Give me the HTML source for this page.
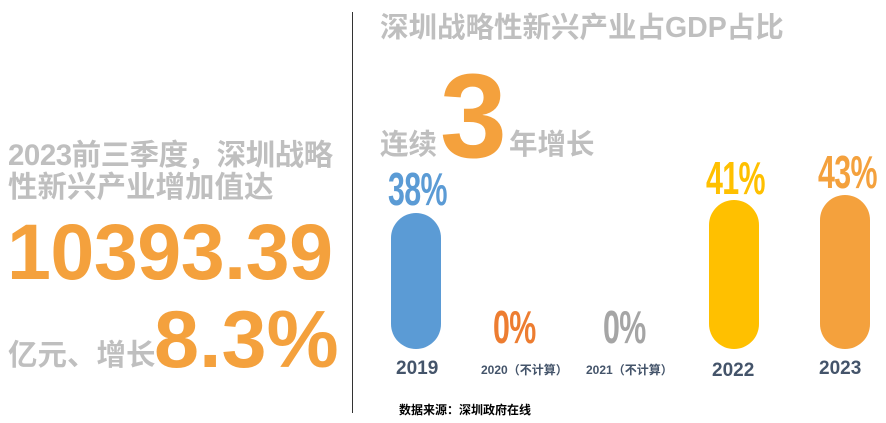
<!DOCTYPE html><html><head><meta charset="utf-8"><style>
body{margin:0;width:886px;height:423px;background:#fff;position:relative;overflow:hidden;font-family:"Liberation Sans","Noto Sans CJK SC",sans-serif;font-weight:bold}
.a{position:absolute;white-space:nowrap;line-height:1}
.g{color:#bfbfbf}.o{color:#f4a13d}
.bar{position:absolute;width:50px;border-radius:25px}
.pct{position:absolute;font-size:46px;line-height:1;transform:scaleX(.66);transform-origin:left top;letter-spacing:-1px}
.yr{position:absolute;color:#44546a;font-size:19px;line-height:1}
.sm{position:absolute;color:#44546a;font-size:12px;line-height:1}
</style></head><body>
<div class="a g" style="left:8px;top:141px;font-size:29.5px;letter-spacing:-0.5px">2023前三季度，深圳战略</div>
<div class="a g" style="left:8px;top:173px;font-size:29.5px">性新兴产业增加值达</div>
<div class="a o" style="left:7px;top:212px;font-size:79px;letter-spacing:-0.5px">10393.39</div>
<div class="a g" style="left:8px;top:341px;font-size:29.5px">亿元、增长</div>
<div class="a o" style="left:154px;top:300px;font-size:81px;letter-spacing:0px">8.3%</div>
<div style="position:absolute;left:352px;top:12px;width:1px;height:401px;background:#333"></div>
<div class="a g" style="left:380px;top:14px;font-size:28.5px">深圳战略性新兴产业占GDP占比</div>
<div class="a g" style="left:380px;top:131px;font-size:28.5px">连续</div>
<div class="a o" style="left:440px;top:56px;font-size:120px">3</div>
<div class="a g" style="left:509px;top:131px;font-size:28.5px">年增长</div>
<div class="bar" style="left:391px;top:213px;height:136px;background:#5b9bd5"></div>
<div class="bar" style="left:709px;top:200px;height:149px;background:#ffc000"></div>
<div class="bar" style="left:820px;top:195px;height:154px;background:#f4a13d"></div>
<div class="pct" style="left:388px;top:166px;color:#5b9bd5">38%</div>
<div class="pct" style="left:706px;top:155px;color:#ffc000">41%</div>
<div class="pct" style="left:818px;top:149px;color:#f4a13d">43%</div>
<div class="pct" style="left:493px;top:304px;color:#ed7d31">0%</div>
<div class="pct" style="left:603px;top:304px;color:#a5a5a5">0%</div>
<div class="yr" style="left:396px;top:359px">2019</div>
<div class="sm" style="left:481px;top:364px">2020（不计算）</div>
<div class="sm" style="left:586px;top:364px">2021（不计算）</div>
<div class="yr" style="left:712px;top:361px">2022</div>
<div class="yr" style="left:819px;top:359px">2023</div>
<div class="a" style="left:399px;top:404px;font-size:12px;color:#000">数据来源：深圳政府在线</div>
</body></html>
